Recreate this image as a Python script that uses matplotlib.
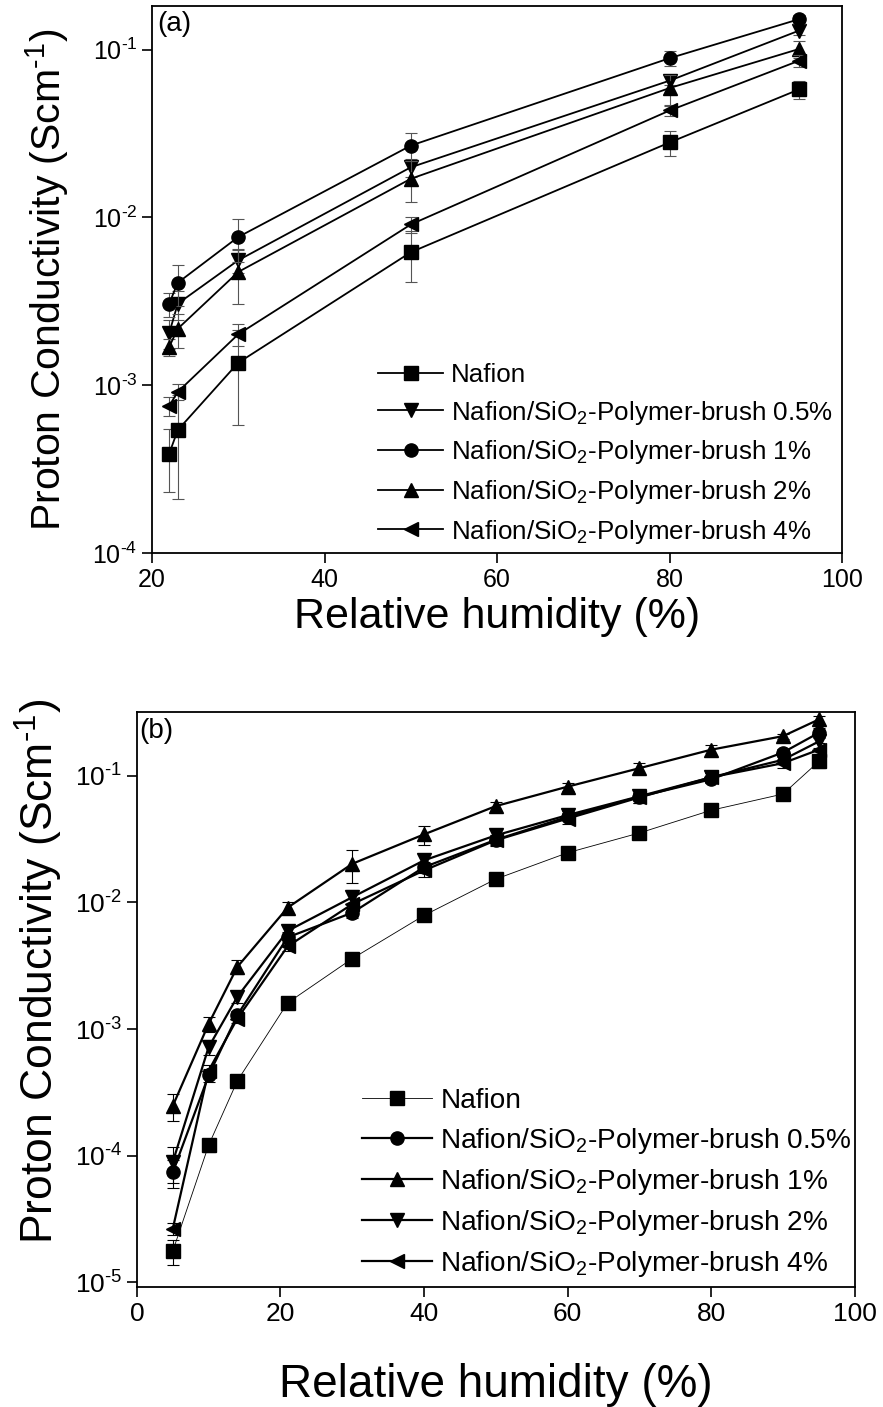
import numpy as np
import matplotlib.pyplot as plt
from matplotlib.lines import Line2D
from matplotlib.ticker import FuncFormatter

plt.rcParams['font.family'] = ['Liberation Sans', 'DejaVu Sans']
plt.rcParams['mathtext.fontset'] = 'custom'
plt.rcParams['mathtext.rm'] = 'Liberation Sans'
plt.rcParams['mathtext.it'] = 'Liberation Sans:italic'
plt.rcParams['mathtext.bf'] = 'Liberation Sans:bold'

# ---- panel (a) data ----
rh_a = [22, 23, 30, 50, 80, 95]
nafion_a = [0.00039, 0.00054, 0.00136, 0.0062, 0.028, 0.058]
nafion_a_err = [0.00016, 0.00033, 0.00078, 0.0021, 0.0047, 0.007]
pb05_a = [0.00204, 0.00306, 0.00555, 0.0199, 0.0654, 0.130]
pb05_a_err = [0.0004, 0.0006, 0.0009, 0.0025, 0.004, 0.008]
pb1_a = [0.00306, 0.00408, 0.00764, 0.0268, 0.089, 0.152]
pb1_a_err = [0.0005, 0.0011, 0.0022, 0.005, 0.0095, 0.01]
pb2_a = [0.00169, 0.00217, 0.00473, 0.0170, 0.0591, 0.101]
pb2_a_err = [0.0002, 0.0005, 0.0017, 0.0047, 0.012, 0.012]
pb4_a = [0.000753, 0.000912, 0.00201, 0.00908, 0.0434, 0.086]
pb4_a_err = [0.0001, 0.0001, 0.0003, 0.001, 0.003, 0.0075]

# ---- panel (b) data ----
rh_b = [5, 10, 14, 21, 30, 40, 50, 60, 70, 80, 90, 95]
nafion_b = [1.76e-5, 1.21e-4, 3.9e-4, 1.61e-3, 3.6e-3, 7.9e-3, 0.0153, 0.0247, 0.0354, 0.0535, 0.0719, 0.130]
nafion_b_err = [4e-6, 1.5e-5, 3e-5, 1e-4, 2e-4, 5e-4, 1.5e-3, 1.5e-3, 2e-3, 3e-3, 4e-3, 0.015]
pb05_b = [7.4e-5, 4.3e-4, 1.29e-3, 5.3e-3, 8.3e-3, 0.019, 0.0313, 0.0475, 0.0685, 0.094, 0.153, 0.219]
pb05_b_err = [1.8e-5, 5e-5, 1e-4, 5e-4, 8e-4, 2e-3, 3e-3, 3e-3, 5e-3, 6e-3, 0.01, 0.02]
pb1_b = [2.47e-4, 1.10e-3, 3.1e-3, 9.1e-3, 0.0202, 0.0345, 0.0577, 0.0822, 0.115, 0.161, 0.206, 0.279]
pb1_b_err = [6e-5, 1.5e-4, 4e-4, 1e-3, 6e-3, 6e-3, 5e-3, 6e-3, 0.012, 0.015, 0.01, 0.02]
pb2_b = [8.9e-5, 7.2e-4, 1.8e-3, 5.96e-3, 0.011, 0.0215, 0.0339, 0.049, 0.069, 0.0975, 0.134, 0.187]
pb2_b_err = [2.8e-5, 1e-4, 2e-4, 6e-4, 1.5e-3, 2.5e-3, 4e-3, 4e-3, 8e-3, 8e-3, 0.01, 0.02]
pb4_b = [2.64e-5, 4.7e-4, 1.21e-3, 4.5e-3, 9.7e-3, 0.0179, 0.031, 0.046, 0.0676, 0.0975, 0.126, 0.161]
pb4_b_err = [3e-6, 5e-5, 1e-4, 4e-4, 1e-3, 2e-3, 3e-3, 4e-3, 6e-3, 8e-3, 0.01, 0.02]

lab_naf = 'Nafion'
lab_05 = 'Nafion/SiO$_2$-Polymer-brush 0.5%'
lab_1 = 'Nafion/SiO$_2$-Polymer-brush 1%'
lab_2 = 'Nafion/SiO$_2$-Polymer-brush 2%'
lab_4 = 'Nafion/SiO$_2$-Polymer-brush 4%'
ylab = 'Proton Conductivity (Scm$^{\\text{-}1}$)'

fig = plt.figure(figsize=(8.83, 14.07), dpi=100)


def pow10(v, pos):
    return '10$^{\\text{-}%d}$' % round(-np.log10(v))


def style_axes(ax, tick_size):
    for spine in ax.spines.values():
        spine.set_linewidth(1.3)
    ax.tick_params(axis='both', which='major', direction='out', length=7, width=1.2,
                   labelsize=tick_size, top=False, right=False)
    ax.tick_params(axis='both', which='minor', length=0)
    ax.yaxis.set_major_formatter(FuncFormatter(pow10))


def series(ax, x, y, err, marker, lw=1.3, ecolor='#333333'):
    ax.errorbar(x, y, yerr=err, fmt='none', ecolor=ecolor, elinewidth=0.8,
                capsize=4, capthick=0.8)
    ax.plot(x, y, '-', marker=marker, color='black', lw=lw, ms=9.5)
    # legend handle without error bars
    return Line2D([], [], color='black', lw=lw, marker=marker, ms=9.5)


# ---------------- (a) ----------------
ax1 = fig.add_axes([0.172, 0.607, 0.782, 0.389])
h = []
h.append(series(ax1, rh_a, nafion_a, nafion_a_err, 's', ecolor='#555555'))
h.append(series(ax1, rh_a, pb05_a, pb05_a_err, 'v', ecolor='#555555'))
h.append(series(ax1, rh_a, pb1_a, pb1_a_err, 'o', ecolor='#555555'))
h.append(series(ax1, rh_a, pb2_a, pb2_a_err, '^', ecolor='#555555'))
h.append(series(ax1, rh_a, pb4_a, pb4_a_err, '<', ecolor='#555555'))
ax1.set_yscale('log')
ax1.set_xlim(20, 100)
ax1.set_ylim(1e-4, 0.183)
ax1.set_xticks([20, 40, 60, 80, 100])
ax1.set_yticks([1e-4, 1e-3, 1e-2, 1e-1])
style_axes(ax1, 18)
ax1.set_xlabel('Relative humidity (%)', fontsize=31, labelpad=4)
ax1.set_ylabel(ylab, fontsize=29.5)
ax1.yaxis.set_label_coords(-0.117, 0.5)
ax1.text(0.008, 0.99, '(a)', transform=ax1.transAxes, fontsize=20, va='top', ha='left')
ax1.legend(h, [lab_naf, lab_05, lab_1, lab_2, lab_4], loc='lower left',
           bbox_to_anchor=(0.305, -0.015), frameon=False,
           fontsize=18.7, handlelength=2.5, handletextpad=0.3, labelspacing=0.45,
           borderaxespad=0.2)

# ---------------- (b) ----------------
ax2 = fig.add_axes([0.155, 0.085, 0.813, 0.409])
h = []
h.append(series(ax2, rh_b, nafion_b, nafion_b_err, 's', lw=0.6, ecolor='black'))
h.append(series(ax2, rh_b, pb05_b, pb05_b_err, 'o', lw=1.6, ecolor='black'))
h.append(series(ax2, rh_b, pb1_b, pb1_b_err, '^', lw=1.6, ecolor='black'))
h.append(series(ax2, rh_b, pb2_b, pb2_b_err, 'v', lw=1.6, ecolor='black'))
h.append(series(ax2, rh_b, pb4_b, pb4_b_err, '<', lw=1.6, ecolor='black'))
ax2.set_yscale('log')
ax2.set_xlim(0, 100)
ax2.set_ylim(9.1e-6, 0.32)
ax2.set_xticks([0, 20, 40, 60, 80, 100])
ax2.set_yticks([1e-5, 1e-4, 1e-3, 1e-2, 1e-1])
style_axes(ax2, 19)
ax2.set_xlabel('Relative humidity (%)', fontsize=33, labelpad=27)
ax2.set_ylabel(ylab, fontsize=32)
ax2.yaxis.set_label_coords(-0.1, 0.55)
ax2.text(0.004, 0.99, '(b)', transform=ax2.transAxes, fontsize=20, va='top', ha='left')
ax2.legend(h, [lab_naf, lab_05, lab_1, lab_2, lab_4], loc='lower left',
           bbox_to_anchor=(0.29, -0.015), frameon=False,
           fontsize=20.2, handlelength=2.5, handletextpad=0.3, labelspacing=0.4,
           borderaxespad=0.2)

fig.savefig('out.png', dpi=100)
